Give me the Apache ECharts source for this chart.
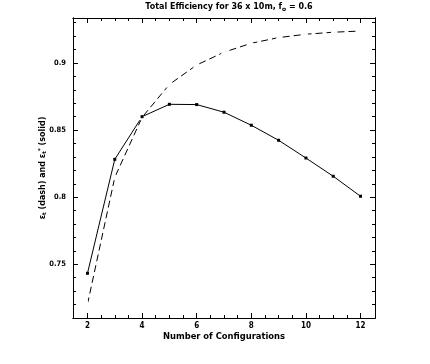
<!DOCTYPE html>
<html>
<head>
<meta charset="utf-8">
<script src="https://cdn.jsdelivr.net/npm/echarts@6/dist/echarts.min.js"></script>
<style>html,body{margin:0;padding:0;background:#fff}#c{width:430px;height:364px}</style>
</head>
<body>
<div id="c"></div>
<script>
// ---- data ----
const configs = [2, 3, 4, 5, 6, 7, 8, 9, 10, 11, 12];
const effDash = [0.7202, 0.8148, 0.8595, 0.8840, 0.8985, 0.9080, 0.9147, 0.9189, 0.9214, 0.9229, 0.9238];
const effSolid = [0.7433, 0.8282, 0.8600, 0.8692, 0.8690, 0.8633, 0.8536, 0.8424, 0.8292, 0.8156, 0.8007];
const xMajorTicks = [2, 4, 6, 8, 10, 12];
const xMinorTicks = [2.5, 3, 3.5, 4.5, 5, 5.5, 6.5, 7, 7.5, 8.5, 9, 9.5, 10.5, 11, 11.5];
const yMajorTicks = [0.75, 0.8, 0.85, 0.9];
const yMinorTicks = [0.72, 0.73, 0.74, 0.76, 0.77, 0.78, 0.79, 0.81, 0.82, 0.83, 0.84, 0.86, 0.87, 0.88, 0.89, 0.91, 0.92, 0.93];
const xRange = [1.47, 12.53];
const yRange = [0.71, 0.9335];

const FONT = 'DejaVu Sans';
const NARROW = 'DejaVu Sans Condensed';
const chart = echarts.init(document.getElementById('c'), null, {renderer: 'canvas'});
const lineStyle = {color: '#000', width: 1};

function xAx(pos, ticks, len, labels, extra) {
  return Object.assign({
    type: 'value', position: pos, min: xRange[0], max: xRange[1],
    axisLine: {show: true, onZero: false, lineStyle},
    axisTick: {show: true, inside: true, length: len, lineStyle, customValues: ticks},
    axisLabel: {show: labels, customValues: ticks, color: '#000', fontFamily: NARROW, fontSize: 8, fontWeight: 'bold', margin: 4},
    splitLine: {show: false}
  }, extra || {});
}
function yAx(pos, ticks, len, labels, extra) {
  return Object.assign({
    type: 'value', position: pos, min: yRange[0], max: yRange[1],
    axisLine: {show: true, onZero: false, lineStyle},
    axisTick: {show: true, inside: true, length: len, lineStyle, customValues: ticks},
    axisLabel: {show: labels, customValues: ticks, color: '#000', fontFamily: NARROW, fontSize: 7.5, fontWeight: 'bold', margin: 7,
      formatter: v => String(+v.toFixed(2))},
    splitLine: {show: false}
  }, extra || {});
}

chart.setOption({
  animation: false,
  backgroundColor: '#fff',
  title: {
    text: 'Total Efficiency for 36 x 10m, f{sub|o} = 0.6',
    left: 224, top: -4, textAlign: 'center',
    textStyle: {fontFamily: FONT, fontSize: 8, fontWeight: 'bold', color: '#000',
      rich: {sub: {fontFamily: FONT, fontSize: 6, fontWeight: 'bold', color: '#000', verticalAlign: 'bottom', padding: [5, 0, 0, 0]}}}
  },
  grid: {left: 73, top: 18, width: 302, height: 300, containLabel: false},
  xAxis: [
    xAx('bottom', xMajorTicks, 5, true, {
      name: 'Number of Configurations', nameLocation: 'middle', nameGap: 15, nameMoveOverlap: false,
      nameTextStyle: {fontFamily: FONT, fontSize: 8.4, fontWeight: 'bold', color: '#000'}
    }),
    xAx('bottom', xMinorTicks, 3, false),
    xAx('top', xMajorTicks, 5, false),
    xAx('top', xMinorTicks, 3, false)
  ],
  yAxis: [
    yAx('left', yMajorTicks, 5, true, {
      name: '{e|ε}{s|t} (dash) and {e|ε}{s|t}{p|*} (solid)', nameLocation: 'middle', nameGap: 25, nameRotate: 90,
      nameMoveOverlap: false,
      nameTextStyle: {fontFamily: FONT, fontSize: 8, fontWeight: 'bold', color: '#000',
        rich: {
          e: {fontFamily: FONT, fontSize: 8, fontWeight: 'bold', color: '#000'},
          s: {fontFamily: FONT, fontSize: 5.5, fontWeight: 'bold', color: '#000', padding: [4, 0, 0, 0]},
          p: {fontFamily: FONT, fontSize: 5.5, fontWeight: 'bold', color: '#000', padding: [0, 0, 4, 0]}
        }}
    }),
    yAx('left', yMinorTicks, 3, false),
    yAx('right', yMajorTicks, 5, false),
    yAx('right', yMinorTicks, 3, false)
  ],
  series: [
    {
      type: 'line', xAxisIndex: 0, yAxisIndex: 0,
      data: configs.map((c, i) => [c, effDash[i]]),
      lineStyle: {color: '#000', width: 1, type: [7, 4]},
      symbol: 'emptyTriangle', symbolSize: 4,
      itemStyle: {color: '#fff', borderColor: '#000', borderWidth: 1}
    },
    {
      type: 'line', xAxisIndex: 0, yAxisIndex: 0,
      data: configs.map((c, i) => [c, effSolid[i]]),
      lineStyle: {color: '#000', width: 1},
      symbol: 'rect', symbolSize: 3,
      itemStyle: {color: '#000'}
    }
  ]
});
</script>
</body>
</html>
